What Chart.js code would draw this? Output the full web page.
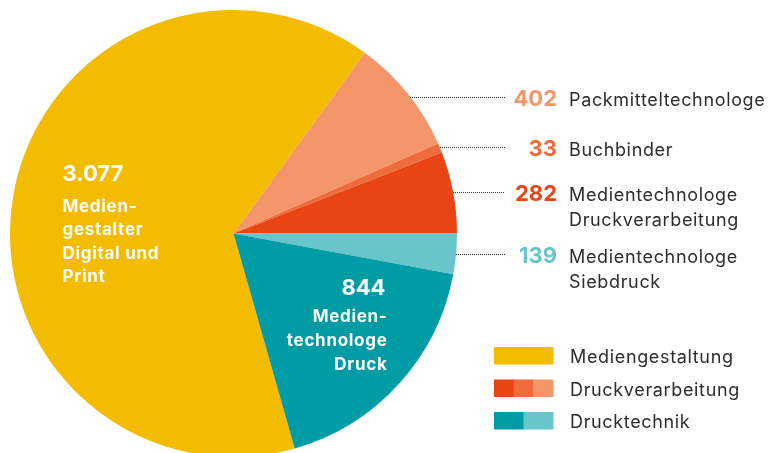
<!DOCTYPE html>
<html>
<head>
<meta charset="utf-8">
<script src="https://cdn.jsdelivr.net/npm/chart.js@4/dist/chart.umd.min.js"></script>
<style>
    html, body { margin: 0; padding: 0; background: #fff; overflow: hidden; }
    #wrap { position: relative; width: 769px; height: 467px; }
</style>
</head>
<body>
<div id="wrap"><canvas id="azubi-chart"></canvas></div>
<script>
/* Auszubildende nach Beruf */

const berufe = ['Mediengestalter Digital und Print', 'Packmitteltechnologe', 'Buchbinder',
                'Medientechnologe Druckverarbeitung', 'Medientechnologe Siebdruck', 'Medientechnologe Druck'];
const azubis = [3077, 402, 33, 282, 139, 844];
const farben = ['#f3bc00', '#f4966a', '#ee6c3b', '#e84414', '#68c5c9', '#009ca6'];

// Beschriftungen rechts (Index in azubis, Textzeilen)
const aussenIdx = [1, 2, 3, 4];
const aussenZeilen = [['Packmitteltechnologe'], ['Buchbinder'], ['Medientechnologe', 'Druckverarbeitung'], ['Medientechnologe', 'Siebdruck']];
const aussenY = [97, 147, 192, 254];

// Beschriftungen im Kreis
const innenIdx = [0, 5];
const innenZeilen = [['Medien-', 'gestalter', 'Digital und', 'Print'], ['Medien-', 'technologe', 'Druck']];

// Legende
const gruppen = ['Mediengestaltung', 'Druckverarbeitung', 'Drucktechnik'];
const gruppenFarben = [[0], [3, 2, 1], [5, 4]];

const FONT = 'Inter, "Noto Sans", sans-serif';
const TEXT = '#2d2d2d';

function fmt(v) {
    return String(v).replace(/\B(?=(\d{3})+(?!\d))/g, '.');
}

const labelPlugin = {
    id: 'labels',
    afterDatasetsDraw(chart) {
        const ctx = chart.ctx;
        const arc = chart.getDatasetMeta(0).data[0];
        const cx = arc.x, cy = arc.y, r = arc.outerRadius;
        ctx.save();

        // Aussen: gepunktete Linie + Zahl + Name
        aussenIdx.forEach((idx, i) => {
            const y = aussenY[i];
            const x0 = Math.round(cx + Math.sqrt(Math.max(0, r * r - (y - cy) * (y - cy))));
            ctx.fillStyle = '#333';
            for (let x = x0; x < 505; x += 2) ctx.fillRect(x, y, 1, 1);

            const base = y + 9;
            ctx.textBaseline = 'alphabetic';
            ctx.letterSpacing = '0px';
            ctx.font = 'bold 22px ' + FONT;
            ctx.fillStyle = farben[idx];
            ctx.textAlign = 'right';
            ctx.fillText(fmt(azubis[idx]), 557, base);

            ctx.letterSpacing = '0.65px';
            ctx.font = '18px ' + FONT;
            ctx.fillStyle = TEXT;
            ctx.textAlign = 'left';
            aussenZeilen[i].forEach((t, j) => ctx.fillText(t, 569, base + j * 25));
        });

        // Innen
        ctx.fillStyle = '#fff';
        ctx.textAlign = 'left';
        ctx.letterSpacing = '0px';
        ctx.font = 'bold 22px ' + FONT;
        ctx.fillText(fmt(azubis[innenIdx[0]]), cx - 171, cy - 53);
        ctx.letterSpacing = '0.7px';
        ctx.font = 'bold 17px ' + FONT;
        innenZeilen[0].forEach((t, j) => ctx.fillText(t, cx - 171, cy - 22 + j * 23.5));

        ctx.textAlign = 'right';
        ctx.letterSpacing = '0px';
        ctx.font = 'bold 22px ' + FONT;
        ctx.fillText(fmt(azubis[innenIdx[1]]), cx + 152, cy + 61.5);
        ctx.letterSpacing = '0.7px';
        ctx.font = 'bold 17px ' + FONT;
        innenZeilen[1].forEach((t, j) => ctx.fillText(t, cx + 154, cy + 88 + j * 24));

        // Legende
        gruppen.forEach((g, i) => {
            const top = 347 + i * 32.5;
            const cols = gruppenFarben[i];
            const w = 59 / cols.length;
            cols.forEach((c, k) => {
                ctx.fillStyle = farben[c];
                ctx.fillRect(494 + k * w, top, w + 0.5, 17.5);
            });
            ctx.fillStyle = TEXT;
            ctx.textAlign = 'left';
            ctx.letterSpacing = '0.65px';
            ctx.font = '18px ' + FONT;
            ctx.fillText(g, 570, top + 16);
        });

        ctx.restore();
    }
};

new Chart(document.getElementById('azubi-chart').getContext('2d'), {
    type: 'pie',
    data: {
        labels: berufe,
        datasets: [{
            data: azubis,
            backgroundColor: farben,
            borderWidth: 0,
        }]
    },
    options: {
        responsive: true,
        maintainAspectRatio: false,
        animation: false,
        rotation: 164.1,
        layout: { padding: { left: 10, right: 312, top: 10, bottom: 10 } },
        plugins: {
            legend: { display: false },
            tooltip: { enabled: false },
        }
    },
    plugins: [labelPlugin]
});
</script>
</body>
</html>
